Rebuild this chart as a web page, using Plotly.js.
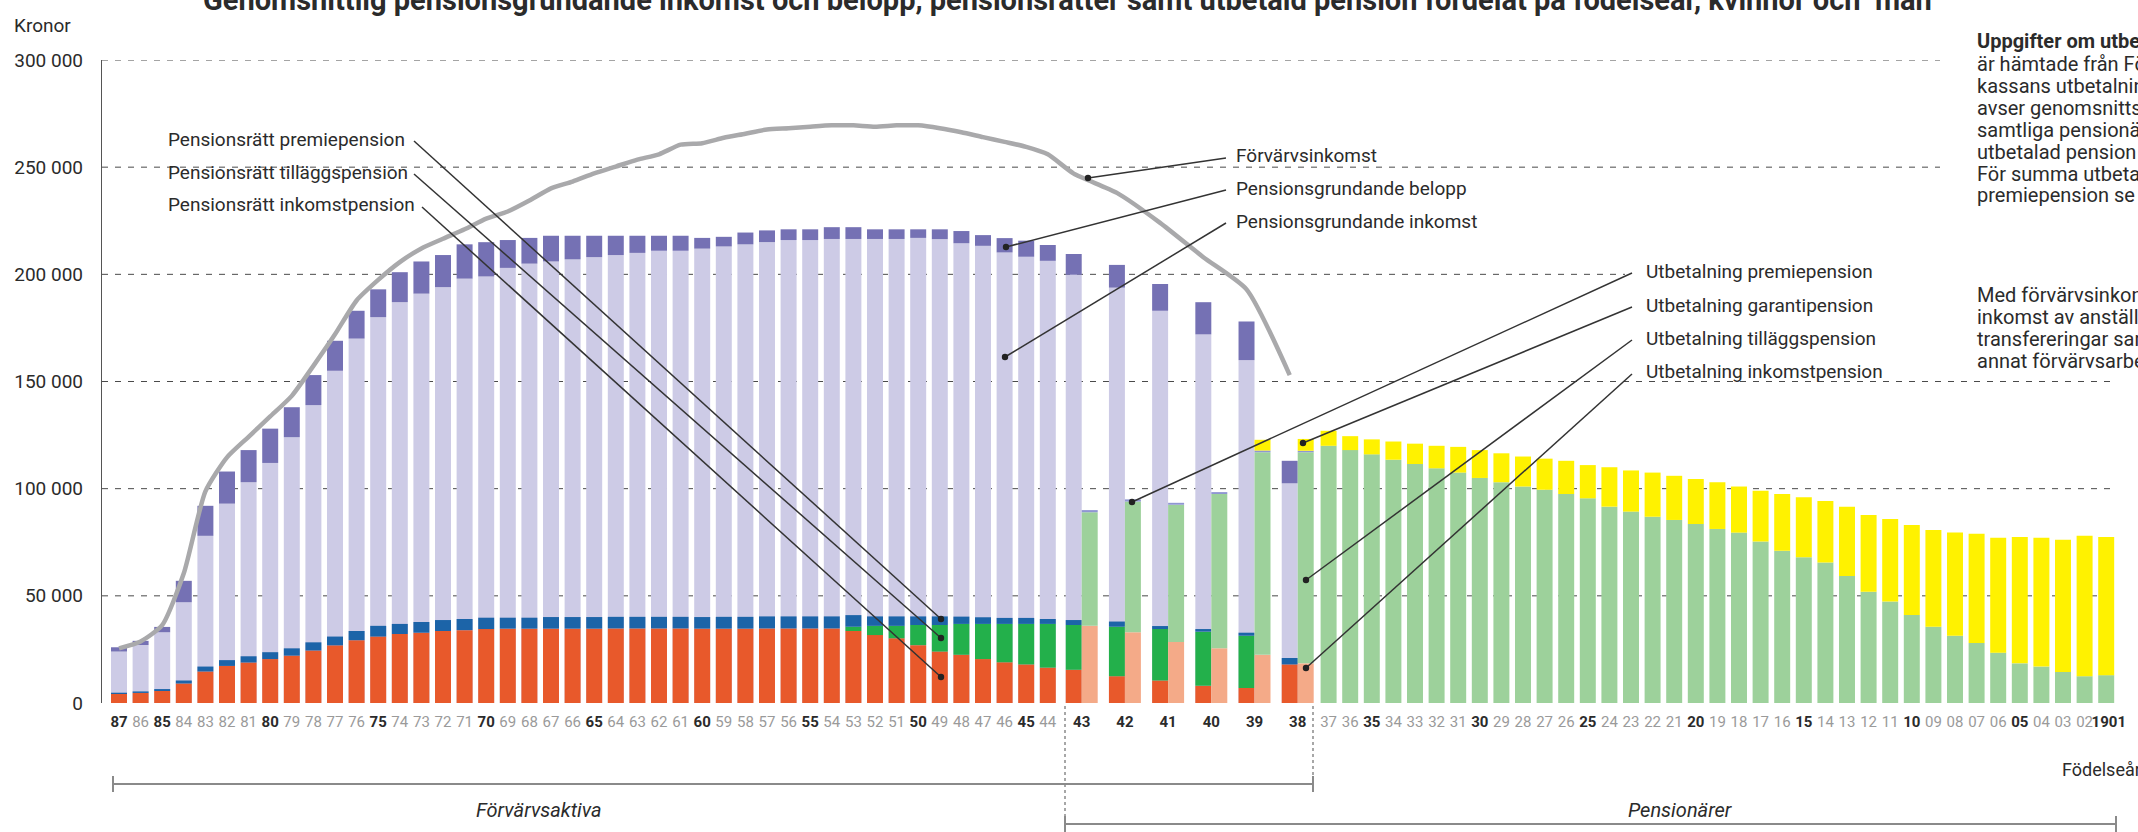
<!DOCTYPE html>
<html><head><meta charset="utf-8">
<script src="https://cdn.plot.ly/plotly-3.0.1.min.js"></script>
<style>html,body{margin:0;padding:0;background:#fff;} #chart{width:2138px;height:832px;}</style>
</head><body><div id="chart"></div>
<script>
// ---------- DATA ----------
// Förvärvsaktiva: födelseår 1987–1944
const activeYears = ['87','86','85','84','83','82','81','80','79','78','77','76','75','74','73','72','71','70','69','68','67','66','65','64','63','62','61','60','59','58','57','56','55','54','53','52','51','50','49','48','47','46','45','44'];
// Övergångsår (både inkomst och utbetalning): 1943–1938
const bridgeYears = ['43','42','41','40','39','38'];
// Pensionärer: 1937–1901
const retiredYears = ['37','36','35','34','33','32','31','30','29','28','27','26','25','24','23','22','21','20','19','18','17','16','15','14','13','12','11','10','09','08','07','06','05','04','03','02','1901'];

// Pensionsgrundande inkomst (87..44, sedan 43..38)
const pgInkomst = [24000,27000,33000,47000,78000,93000,103000,112000,124000,139000,155000,170000,180000,187000,191000,194000,198000,199000,203000,205000,206000,207000,208000,209000,210000,211000,211000,212000,213000,214000,215000,216000,216000,216500,216500,216500,216500,217000,216400,214500,213300,210200,208200,206300,
  199800,193800,183000,172000,160000,102500];
// Pensionsgrundande belopp
const pgBelopp = [2000,2000,2500,10000,14000,15000,15000,16000,14000,14000,14000,13000,13000,14000,15000,15000,16000,16000,13000,12000,12000,11000,10000,9000,8000,7000,7000,5000,4500,5500,5500,5000,5000,5500,5500,4500,4500,4000,4600,5700,5000,6700,7500,7400,
  9700,10600,12500,15000,18000,10500];
// Pensionsrätt inkomstpension
const rattInkomst = [4200,4700,5600,9100,14700,17300,18900,20500,22100,24500,26900,29300,31000,32200,32800,33600,34000,34500,34700,34700,34700,34700,34700,34800,34800,34800,34800,34700,34700,34700,34800,34800,34800,34800,33600,31700,30200,27000,24000,22500,20500,19000,18000,16500,
  15500,12500,10500,8000,7000,18000];
// Pensionsrätt tilläggspension
const rattTillagg = [0,0,0,0,0,0,0,0,0,0,0,0,0,0,0,0,0,0,0,0,0,0,0,0,0,0,0,0,0,0,0,0,0,0,2000,4300,5800,9400,12400,14400,16400,17900,18900,20400,
  20900,23100,24000,25300,24400,0];
// Pensionsrätt premiepension
const rattPremie = [600,700,900,1400,2300,2700,2900,3200,3400,3800,4100,4300,5000,4700,5000,5100,5200,5300,5100,5100,5400,5400,5400,5400,5400,5400,5400,5400,5500,5500,5600,5600,5600,5600,5400,4400,4400,4000,4000,3400,3100,2800,2800,2300,
  2300,2400,1400,1200,1400,3000];
// Förvärvsinkomst (linje)
const forvarvsinkomst = [25500,28700,36300,60500,98700,114600,124200,133700,143300,157300,172000,187800,197400,205700,212100,216600,221000,226000,229300,234400,240100,243300,247100,250300,253500,256000,260500,261200,263700,265600,267600,268200,268900,269500,269500,268900,269500,269500,268200,266300,264000,261800,259500,256000,
  247000,238000,224000,208000,193000,153000];

// Utbetalning (43..38, sedan 37..1901)
const utbInkomst = [36000,33000,28500,25500,22500,18500,
  0,0,0,0,0,0,0,0,0,0,0,0,0,0,0,0,0,0,0,0,0,0,0,0,0,0,0,0,0,0,0,0,0,0,0,0,0];
const utbTillagg = [53000,61000,64000,72000,94500,98500,
  120000,118000,116000,113500,111500,109500,107500,105000,103000,101000,99500,97500,95500,91600,89300,86900,85400,83500,81200,79500,75300,71000,68000,65500,59300,51900,47300,41100,35600,31400,28000,23500,18500,17000,14500,12500,13000];
const utbPremie = [1000,1000,900,900,800,700,
  0,0,0,0,0,0,0,0,0,0,0,0,0,0,0,0,0,0,0,0,0,0,0,0,0,0,0,0,0,0,0,0,0,0,0,0,0];
const utbGaranti = [0,0,0,0,5000,5500,
  7000,6500,7000,8500,9500,10500,12000,13000,13500,14000,14500,15500,15500,18400,19200,20600,20600,21000,21800,21500,23700,26500,28000,28700,32300,35800,38500,41900,45100,48100,51000,53600,58900,60100,61700,65500,64400];

const yTickVals = [0,50000,100000,150000,200000,250000,300000];
const yTickText = ['0','50 000','100 000','150 000','200 000','250 000','300 000'];
// ---------- LAYOUT HELPERS ----------
const L=102, R=2120, T=60, B=703;
const px = x => (x-L)/(R-L);
const py = y => (B-y)/(B-T);
const BW = 0.74;

const activePos = activeYears.map((_,i)=>i);
const bridgeLavPos = bridgeYears.map((_,g)=>44.2+2*g);
const bridgePayPos = bridgeYears.map((_,g)=>44.94+2*g);
const retiredPos = retiredYears.map((_,j)=>56+j);

const leftX = activePos.concat(bridgeLavPos);
const payX = bridgePayPos.concat(retiredPos);

const add = (a,b)=>a.map((v,i)=>v+b[i]);

function tickFmt(lbl){
  const n = parseInt(lbl.slice(-2),10);
  const strong = (n%5===0) || lbl==='87' || lbl==='1901' || bridgeYears.includes(lbl);
  return strong ? '<b>'+lbl+'</b>' : '<span style="color:#9a9a9a">'+lbl+'</span>';
}
const tickVals = activePos.concat(bridgeYears.map((_,g)=>44.57+2*g)).concat(retiredPos.map((p,j)=> j===retiredPos.length-1 ? p+0.12 : p));
const tickText = activeYears.concat(bridgeYears).concat(retiredYears).map(tickFmt);

const bar = (name,x,y,base,color)=>({type:'bar',name,x,y,base,width:BW,marker:{color,line:{width:0}},hoverinfo:'skip'});

const traces = [
  bar('Pensionsgrundande inkomst', leftX, pgInkomst, leftX.map(()=>0), '#cdcbe6'),
  bar('Pensionsgrundande belopp', leftX, pgBelopp, pgInkomst, '#7571b4'),
  bar('Pensionsrätt inkomstpension', leftX, rattInkomst, leftX.map(()=>0), '#e8592b'),
  bar('Pensionsrätt tilläggspension', leftX, rattTillagg, rattInkomst, '#23b04b'),
  bar('Pensionsrätt premiepension', leftX, rattPremie, add(rattInkomst,rattTillagg), '#1c64a8'),
  bar('Utbetalning inkomstpension', payX, utbInkomst, payX.map(()=>0), '#f4aa88'),
  bar('Utbetalning tilläggspension', payX, utbTillagg, utbInkomst, '#9dd19b'),
  bar('Utbetalning premiepension', payX, utbPremie, add(utbInkomst,utbTillagg), '#8f96d2'),
  bar('Utbetalning garantipension', payX, utbGaranti, add(add(utbInkomst,utbTillagg),utbPremie), '#fff200'),
  {type:'scatter',mode:'lines',name:'Förvärvsinkomst',x:leftX,y:forvarvsinkomst,line:{color:'#a9a9ab',width:4.5,shape:'spline',smoothing:0.6},hoverinfo:'skip'}
];

const FONT = 'Roboto, "DejaVu Sans", sans-serif';
const txtCol = '#2b2b2b';
const shapes = [];
const annotations = [];

// dashed gridlines (drawn behind bars)
const gridEnds = {50000:2117,100000:2117,150000:2117,200000:1625,250000:1940,300000:1940};
[50000,100000,150000,200000,250000,300000].forEach(v=>{
  shapes.push({type:'line',layer:'below',xref:'paper',yref:'y',x0:0,x1:px(gridEnds[v]),y0:v,y1:v,line:{color:'#4a4a4a',width:1,dash:'6px,7px'}});
});

function leader(x0,y0,x1,y1){
  shapes.push({type:'line',xref:'paper',yref:'paper',x0:px(x0),y0:py(y0),x1:px(x1),y1:py(y1),line:{color:'#333',width:1.5}});
  const r=3.2;
  shapes.push({type:'circle',xref:'paper',yref:'paper',x0:px(x1-r),x1:px(x1+r),y0:py(y1+r),y1:py(y1-r),fillcolor:'#222',line:{width:0}});
}
const LBL = 19;
function label(text,x,y,opts={}){
  annotations.push(Object.assign({text,xref:'paper',yref:'paper',x:px(x),y:py(y),xanchor:'left',yanchor:'middle',showarrow:false,font:{family:FONT,size:LBL,color:txtCol}},opts));
}

// left labels
label('Pensionsrätt premiepension',166,139);
label('Pensionsrätt tilläggspension',166,172);
label('Pensionsrätt inkomstpension',166,205);
leader(414,141,941,619);
leader(414,174,941,638);
leader(422,207,941,677);

// middle labels
label('Förvärvsinkomst',1234,155);
label('Pensionsgrundande belopp',1234,188);
label('Pensionsgrundande inkomst',1234,221);
leader(1226,158,1088,178);
leader(1226,190,1006,247);
leader(1226,223,1005,357);

// right labels
label('Utbetalning premiepension',1644,271);
label('Utbetalning garantipension',1644,305);
label('Utbetalning tilläggspension',1644,338);
label('Utbetalning inkomstpension',1644,371);
leader(1632,273,1132,502);
leader(1632,307,1303,443);
leader(1632,340,1306,580);
leader(1632,374,1306,668);

// title (partly outside the page top)
annotations.push({text:'<b>Genomsnittlig pensionsgrundande inkomst och belopp, pensionsrätter samt utbetald pension fördelat på födelseår, kvinnor och  män</b>',
  xref:'paper',yref:'paper',x:px(1067),y:py(19),xanchor:'center',yanchor:'bottom',showarrow:false,font:{family:FONT,size:29,color:'#2b2b2b'}});
// Kronor
label('Kronor',12,26);
// Födelseår
label('Födelseår',2060,769,{font:{family:FONT,size:18,color:txtCol}});

// side notes (run off the right edge)
const note1 = ['<b>Uppgifter om utbetald pension</b>','är hämtade från Försäkrings-','kassans utbetalningsregister och','avser genomsnittsbelopp för','samtliga pensionärer som fått','utbetalad pension under året.','För summa utbetalad inkomst- och','premiepension se Not 1.'];
note1.forEach((t,i)=>label(t,1975,i===0?41:64+i*21.9-21.9,{font:{family:FONT,size:20,color:txtCol}}));
const note2 = ['Med förvärvsinkomst avses','inkomst av anställning, vissa','transfereringar samt inkomst av','annat förvärvsarbete.'];
note2.forEach((t,i)=>label(t,1975,295+i*21.9,{font:{family:FONT,size:20,color:txtCol}}));

// brackets
const brCol='#8a8a8a';
function hbr(x0,x1,y){
  shapes.push({type:'line',xref:'paper',yref:'paper',x0:px(x0),x1:px(x1),y0:py(y),y1:py(y),line:{color:brCol,width:2}});
  shapes.push({type:'line',xref:'paper',yref:'paper',x0:px(x0),x1:px(x0),y0:py(y-8),y1:py(y+8),line:{color:brCol,width:2}});
  shapes.push({type:'line',xref:'paper',yref:'paper',x0:px(x1),x1:px(x1),y0:py(y-8),y1:py(y+8),line:{color:brCol,width:2}});
}
hbr(113,1313,784);
hbr(1065,2116,824);
shapes.push({type:'line',xref:'paper',yref:'paper',x0:px(1065),x1:px(1065),y0:py(706),y1:py(824),line:{color:brCol,width:1.5,dash:'dot'}});
shapes.push({type:'line',xref:'paper',yref:'paper',x0:px(1313),x1:px(1313),y0:py(706),y1:py(784),line:{color:brCol,width:1.5,dash:'dot'}});
annotations.push({text:'<i>Förvärvsaktiva</i>',xref:'paper',yref:'paper',x:px(539),y:py(810),xanchor:'center',yanchor:'middle',showarrow:false,font:{family:FONT,size:20,color:txtCol}});
annotations.push({text:'<i>Pensionärer</i>',xref:'paper',yref:'paper',x:px(1680),y:py(810),xanchor:'center',yanchor:'middle',showarrow:false,font:{family:FONT,size:20,color:txtCol}});

const layout = {
  width:2138,height:832,
  margin:{l:L,r:2138-R,t:T,b:832-B,pad:0},
  paper_bgcolor:'#fff',plot_bgcolor:'rgba(0,0,0,0)',
  barmode:'overlay',showlegend:false,
  font:{family:FONT,size:15,color:txtCol},
  xaxis:{range:[(L-119)/21.6,(R-119)/21.6],tickmode:'array',tickvals:tickVals,ticktext:tickText,ticks:'',showgrid:false,zeroline:false,showline:false,tickangle:0,tickfont:{family:FONT,size:15,color:'#2b2b2b'},ticklabelstandoff:8,fixedrange:true},
  yaxis:{range:[0,300000],tickmode:'array',tickvals:yTickVals,ticktext:yTickText,ticks:'',showgrid:false,zeroline:false,showline:true,linecolor:'#555',linewidth:1.2,tickfont:{family:FONT,size:19,color:'#2b2b2b'},ticklabelstandoff:14,fixedrange:true},
  shapes,annotations
};
Plotly.newPlot('chart',traces,layout,{staticPlot:true,displayModeBar:false});
</script></body></html>
